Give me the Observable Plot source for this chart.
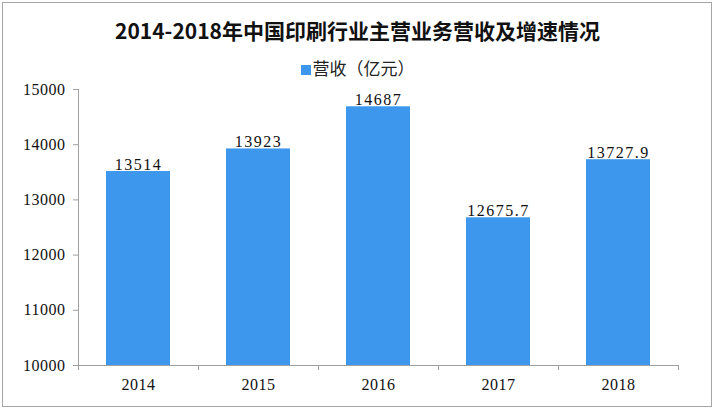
<!DOCTYPE html>
<html>
<head>
<meta charset="utf-8">
<script src="https://cdn.jsdelivr.net/npm/d3@7"></script>
<script src="https://cdn.jsdelivr.net/npm/@observablehq/plot@0.6"></script>
<style>
  html, body { margin: 0; padding: 0; background: #fff; }
  #wrap { position: relative; width: 715px; height: 414px; overflow: hidden; }
  #frame { position: absolute; left: 2px; top: 2px; width: 708px; height: 403px; border: 1px solid #a6a6a6; z-index: 3; pointer-events: none; }
  #title { position: absolute; left: 0; top: 16px; width: 715px; text-align: center; font: bold 21px "Noto Sans CJK SC", sans-serif; line-height: 28px; color: #111; z-index: 2; }
  #legend { position: absolute; left: 0; top: 56px; width: 715px; text-align: center; font: 17px "Noto Sans CJK SC", sans-serif; line-height: 24px; color: #222; z-index: 2; }
  #legend .sw { display: inline-block; width: 10px; height: 10px; background: #3d97ec; margin-right: 2px; vertical-align: 0px; }
  #chart { position: absolute; left: 0; top: 80px; }
  #chart svg { background: transparent; }
  #chart g[aria-label="text"] text { letter-spacing: 1.5px; }
  #chart g[aria-label="y-axis tick label"] text,
  #chart g[aria-label="x-axis tick label"] text { letter-spacing: 0.5px; }
</style>
</head>
<body>
<div id="wrap">
  <div id="frame"></div>
  <div id="title">2014-2018年中国印刷行业主营业务营收及增速情况</div>
  <div id="legend"><span class="sw"></span>营收（亿元）</div>
  <div id="chart"></div>
</div>
<script>
const years = ["2014", "2015", "2016", "2017", "2018"];
const revenue = [13514, 13923, 14687, 12675.7, 13727.9];
const valueLabels = ["13514", "13923", "14687", "12675.7", "13727.9"];
const yTicks = [10000, 11000, 12000, 13000, 14000, 15000];

const data = years.map((y, i) => ({year: y, value: revenue[i], label: valueLabels[i]}));

const W = 715, H = 334, ML = 78, MR = 37, MT = 9, MB = 49;
const half = (W - ML - MR) / years.length / 2;
const numFont = "Liberation Serif, serif";

const plot = Plot.plot({
  width: W,
  height: H,
  marginLeft: ML,
  marginRight: MR,
  marginTop: MT,
  marginBottom: MB,
  style: {background: "transparent"},
  x: {domain: years, paddingInner: 0.47, paddingOuter: 0.235, axis: null, label: null},
  y: {domain: [10000, 15000], axis: null, label: null},
  marks: [
    Plot.barY(data, {x: "year", y1: 10000, y2: "value", fill: "#3d97ec"}),
    Plot.ruleY([10000], {stroke: "#a0a0a0", strokeWidth: 1}),
    Plot.ruleX([years[0]], {stroke: "#a0a0a0", strokeWidth: 1, dx: -half}),
    Plot.ruleX(years, {y1: 10000, y2: 10000, insetBottom: -5, stroke: "#a0a0a0", dx: -half}),
    Plot.ruleX([years[years.length - 1]], {y1: 10000, y2: 10000, insetBottom: -5, stroke: "#a0a0a0", dx: half}),
    Plot.axisX({tickSize: 0, tickPadding: 13, fontSize: 16, fontFamily: numFont, fill: "#111", label: null}),
    Plot.axisY({ticks: yTicks, tickSize: 5, tickPadding: 8, stroke: "#a0a0a0", fill: "#111", fontSize: 16, fontFamily: numFont, tickFormat: d => String(d), label: null}),
    Plot.text(data, {x: "year", y: "value", text: "label", lineAnchor: "bottom", dy: -2, fontSize: 16, fontFamily: numFont, fill: "#111"})
  ]
});
document.getElementById("chart").appendChild(plot);
</script>
</body>
</html>
